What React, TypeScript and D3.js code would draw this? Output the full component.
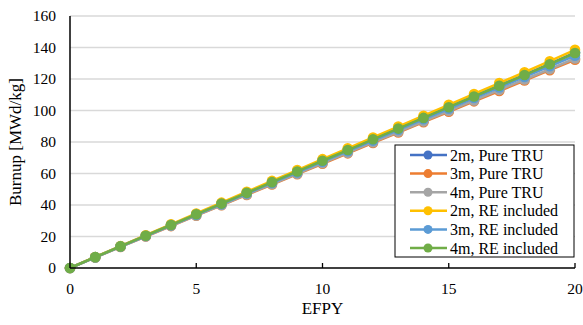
import * as d3 from "d3";

const years = d3.range(0, 21);
const seriesNames = ["2m, Pure TRU", "3m, Pure TRU", "4m, Pure TRU", "2m, RE included", "3m, RE included", "4m, RE included"];
const colors = ["#4472C4", "#ED7D31", "#A5A5A5", "#FFC000", "#5B9BD5", "#70AD47"];

const pure2m = [0, 6.9, 13.8, 20.6, 27.4, 34.2, 41.0, 47.8, 54.6, 61.4, 68.2, 75.0, 81.8, 88.6, 95.4, 102.2, 109.0, 115.8, 122.6, 129.6, 136.8];
const pure3m = [0, 6.7, 13.4, 20.0, 26.6, 33.2, 39.8, 46.4, 53.0, 59.6, 66.2, 72.8, 79.4, 86.0, 92.6, 99.2, 105.8, 112.4, 119.0, 125.6, 132.2];
const pure4m = [0, 6.7, 13.5, 20.1, 26.8, 33.4, 40.0, 46.7, 53.3, 59.9, 66.6, 73.2, 79.9, 86.5, 93.1, 99.8, 106.4, 113.1, 119.7, 126.3, 133.0];
const re2m = [0, 7.0, 13.9, 20.8, 27.7, 34.6, 41.5, 48.4, 55.3, 62.2, 69.1, 76.0, 82.9, 89.8, 96.7, 103.6, 110.5, 117.4, 124.3, 131.3, 138.5];
const re3m = [0, 6.8, 13.6, 20.3, 27.1, 33.8, 40.5, 47.3, 54.0, 60.7, 67.5, 74.2, 80.9, 87.7, 94.4, 101.1, 107.9, 114.6, 121.3, 128.1, 134.8];
const re4m = [0, 6.9, 13.7, 20.5, 27.3, 34.1, 40.9, 47.7, 54.5, 61.3, 68.1, 74.9, 81.7, 88.5, 95.3, 102.1, 108.9, 115.7, 122.5, 129.4, 136.5];
const allSeries = [pure2m, pure3m, pure4m, re2m, re3m, re4m];

const xTicks = [0, 5, 10, 15, 20];
const yTicks = [0, 20, 40, 60, 80, 100, 120, 140, 160];

export default function App() {
  const width = 583;
  const height = 325;
  const margin = { left: 70, right: 8, top: 16, bottom: 57 };
  const x = d3.scaleLinear().domain([0, 20]).range([margin.left, width - margin.right]);
  const y = d3.scaleLinear().domain([0, 160]).range([height - margin.bottom, margin.top]);
  const line = d3.line<number>().x((_, i) => x(years[i])).y((v) => y(v));
  const font = "'Liberation Serif', 'Times New Roman', serif";

  return (
    <svg width={width} height={height} style={{ position: "absolute", left: 0, top: 0, background: "#fff" }} fontFamily={font}>
      {yTicks.map((t) => (
        <g key={t}>
          {t > 0 && <line x1={x(0)} x2={x(20)} y1={y(t)} y2={y(t)} stroke="#d9d9d9" strokeWidth={1.3} />}
          <text x={56} y={y(t) + 5} textAnchor="end" fontSize={15.5} fill="#000">{t}</text>
        </g>
      ))}
      {xTicks.map((t) => (
        <g key={t}>
          <line x1={x(t)} x2={x(t)} y1={y(0)} y2={y(0) - 5} stroke="#000" strokeWidth={1.3} />
          <text x={x(t)} y={294} textAnchor="middle" fontSize={15.5} fill="#000">{t}</text>
        </g>
      ))}
      {allSeries.map((s, i) => (
        <g key={seriesNames[i]}>
          <path d={line(s) ?? ""} fill="none" stroke={colors[i]} strokeWidth={2.5} />
          {s.map((v, j) => (
            <circle key={j} cx={x(years[j])} cy={y(v)} r={5.3} fill={colors[i]} />
          ))}
        </g>
      ))}
      <line x1={x(0)} x2={x(0)} y1={y(0)} y2={y(160)} stroke="#000" strokeWidth={1.5} />
      <line x1={x(0)} x2={x(20)} y1={y(0)} y2={y(0)} stroke="#000" strokeWidth={1.5} />
      <text x={0} y={0} transform={`translate(21, ${y(80)}) rotate(-90)`} textAnchor="middle" fontSize={17} fill="#000">Burnup [MWd/kg]</text>
      <text x={x(10)} y={314} textAnchor="middle" fontSize={17} fill="#000">EFPY</text>
      <g transform="translate(395, 145)">
        <rect x={0} y={0} width={179} height={112} fill="#fff" stroke="#000" strokeWidth={1} />
        {seriesNames.map((name, i) => (
          <g key={name} transform={`translate(0, ${10 + i * 18.6})`}>
            <line x1={15} x2={52} y1={0} y2={0} stroke={colors[i]} strokeWidth={2.5} />
            <circle cx={33} cy={0} r={4.5} fill={colors[i]} />
            <text x={55} y={5.5} fontSize={16} fill="#000">{name}</text>
          </g>
        ))}
      </g>
    </svg>
  );
}
